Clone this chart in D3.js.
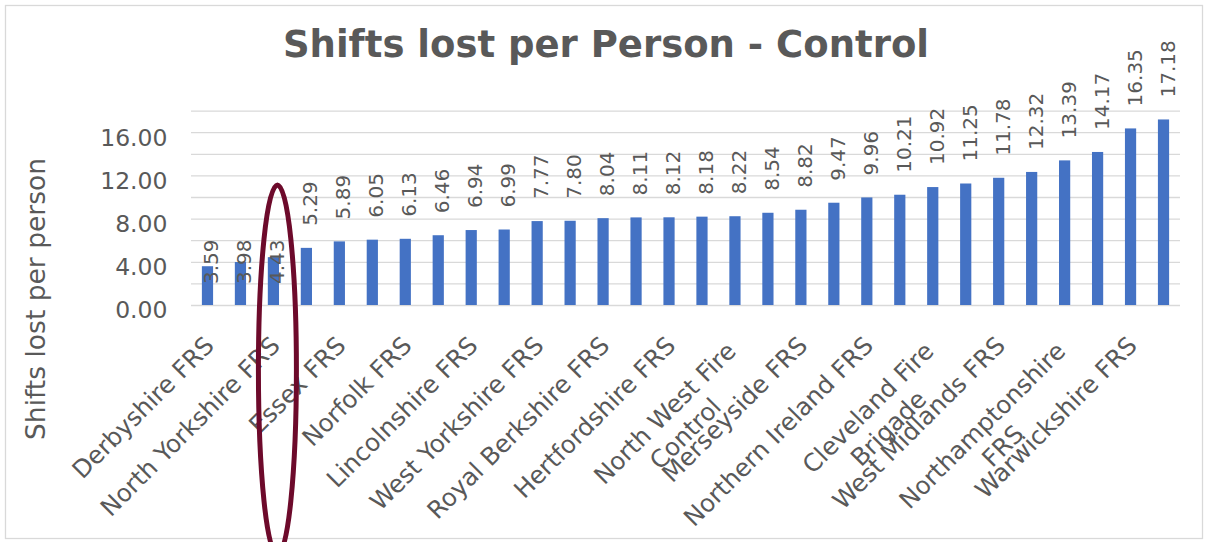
<!DOCTYPE html>
<html>
<head>
<meta charset="utf-8">
<script src="https://cdn.jsdelivr.net/npm/d3@7"></script>
<style>
  body { margin: 0; background: #fff; }
  svg text { font-family: "DejaVu Sans", Verdana, sans-serif; fill: #595959; }
</style>
</head>
<body>
<div id="chart"></div>
<script>
// values sorted ascending, 30 services; only every other name is shown on the axis
const values = [3.59, 3.98, 4.43, 5.29, 5.89, 6.05, 6.13, 6.46, 6.94, 6.99,
                7.77, 7.80, 8.04, 8.11, 8.12, 8.18, 8.22, 8.54, 8.82, 9.47,
                9.96, 10.21, 10.92, 11.25, 11.78, 12.32, 13.39, 14.17, 16.35, 17.18];
const labels = ["Derbyshire FRS", "", "North Yorkshire FRS", "", "Essex FRS", "",
                "Norfolk FRS", "", "Lincolnshire FRS", "", "West Yorkshire FRS", "",
                "Royal Berkshire FRS", "", "Hertfordshire  FRS", "", "North West Fire|Control", "",
                "Merseyside FRS", "", "Northern Ireland FRS", "", "Cleveland Fire|Brigade", "",
                "West Midlands FRS", "", "Northamptonshire|FRS", "", "Warwickshire FRS", ""];
const yTicks = [0, 4, 8, 12, 16];
const gridTicks = [0, 2, 4, 6, 8, 10, 12, 14, 16, 18];
const highlighted = 2; // North Yorkshire FRS is circled

const W = 1208, H = 542;
const margin = { top: 110.6, right: 28, bottom: 237, left: 191 };
const width = W - margin.left - margin.right;
const height = H - margin.top - margin.bottom;

const svg = d3.select("#chart").append("svg")
    .attr("width", W)
    .attr("height", H);

// chart border
svg.append("rect")
    .attr("x", 5.5).attr("y", 5.5)
    .attr("width", W - 11).attr("height", H - 9)
    .attr("fill", "none")
    .attr("stroke", "#d9d9d9")
    .attr("stroke-width", 1.3);

svg.append("text")
    .attr("x", 606)
    .attr("y", 57)
    .attr("text-anchor", "middle")
    .attr("font-size", "37px")
    .attr("font-weight", "bold")
    .text("Shifts lost per Person - Control");

const g = svg.append("g")
    .attr("transform", `translate(${margin.left},${margin.top})`);

const x = d3.scaleBand()
    .domain(d3.range(values.length))
    .range([0, width])
    .paddingInner(0.66)
    .paddingOuter(0.33);

const y = d3.scaleLinear()
    .domain([0, 18])
    .range([height, 0]);

// gridlines
g.append("g")
    .call(d3.axisLeft(y).tickValues(gridTicks).tickSize(-width).tickFormat(""))
    .call(a => a.select(".domain").remove())
    .selectAll("line")
    .attr("stroke", "#d9d9d9")
    .attr("stroke-width", 1.3);

// y axis labels
g.append("g")
    .attr("transform", "translate(-20.5,0)")
    .call(d3.axisLeft(y).tickValues(yTicks).tickSize(0).tickFormat(d3.format(".2f")))
    .call(a => a.select(".domain").remove())
    .selectAll("text")
    .attr("font-size", "23.5px")
    .attr("dy", "0.55em");

svg.append("text")
    .attr("transform", "translate(45,299) rotate(-90)")
    .attr("text-anchor", "middle")
    .attr("font-size", "26.5px")
    .text("Shifts lost per person");

// bars
g.selectAll(".bar")
    .data(values)
    .enter().append("rect")
    .attr("class", "bar")
    .attr("x", (d, i) => x(i))
    .attr("y", d => y(d))
    .attr("width", x.bandwidth())
    .attr("height", d => height - y(d))
    .attr("fill", "#4472C4");

// data labels, first three sit at the base
g.selectAll(".val")
    .data(values)
    .enter().append("text")
    .attr("class", "val")
    .attr("transform", (d, i) => {
        const cx = x(i) + x.bandwidth() / 2 + 11;
        const ty = i < 3 ? height - 21 : y(d) - 22;
        return `translate(${cx},${ty}) rotate(-90)`;
    })
    .attr("font-size", "20px")
    .text(d => d.toFixed(2));

// x axis
const xAxis = g.append("g")
    .attr("transform", `translate(0,${height})`)
    .call(d3.axisBottom(x).tickSize(0).tickValues(d3.range(values.length).filter(i => labels[i] !== "")).tickFormat(""));
xAxis.select(".domain").remove();

xAxis.selectAll(".tick").each(function (i) {
    const lines = labels[i].split("|");
    const t = d3.select(this).append("text")
        .attr("transform", "translate(8,42) rotate(-45)")
        .attr("text-anchor", "end")
        .attr("font-size", "24.5px");
    if (lines.length === 1) {
        t.append("tspan").attr("x", 0).text(lines[0]);
    } else {
        const first = t.append("tspan").attr("x", -8).attr("y", 0).text(lines[0]);
        const w1 = first.node().getComputedTextLength();
        t.append("tspan")
            .attr("x", -8 - w1 / 2)
            .attr("y", 29)
            .attr("text-anchor", "middle")
            .text(lines[1]);
    }
});

// highlight ring
g.append("ellipse")
    .attr("cx", x(highlighted) + x.bandwidth() / 2 + 4)
    .attr("cy", y(0) + 65)
    .attr("rx", 19)
    .attr("ry", 185)
    .attr("fill", "none")
    .attr("stroke", "#6D0A2B")
    .attr("stroke-width", 5);
</script>
</body>
</html>
